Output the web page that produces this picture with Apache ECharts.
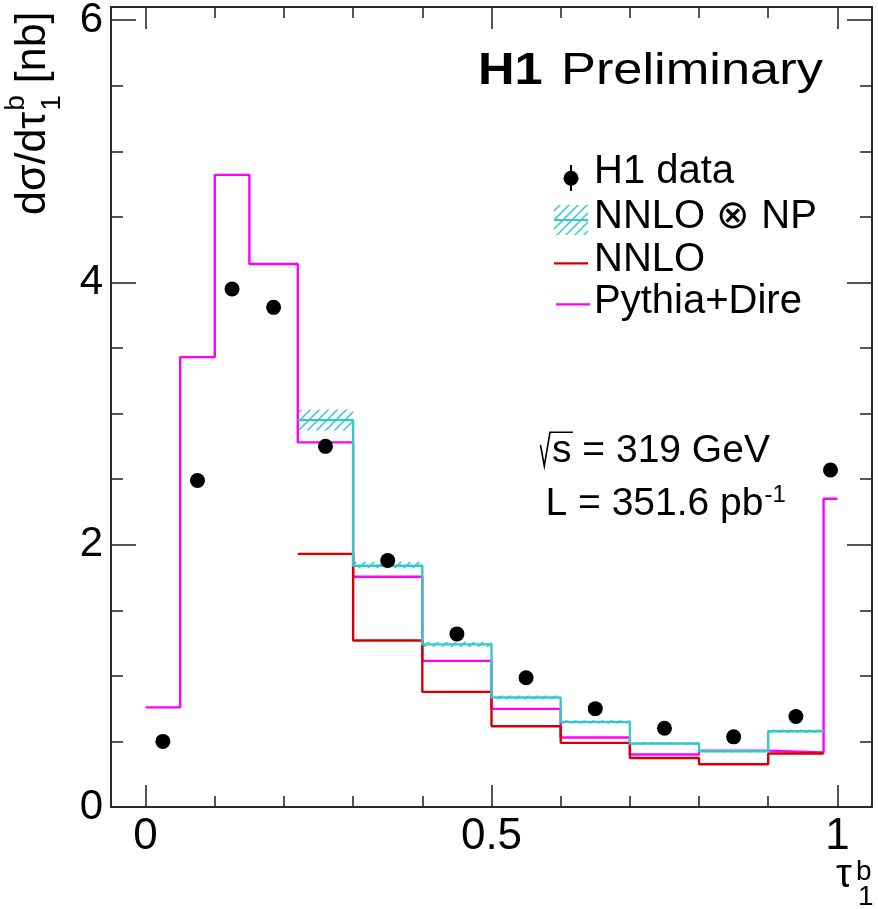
<!DOCTYPE html>
<html>
<head>
<meta charset="utf-8">
<script src="https://cdn.jsdelivr.net/npm/echarts@6/dist/echarts.min.js"></script>
<style>
html,body{margin:0;padding:0;background:#fff;}
#chart{width:878px;height:909px;}
</style>
</head>
<body>
<div id="chart"></div>
<script>
// Bin edges of the tau_1^b distribution
const binEdges = [0, 0.05, 0.1, 0.15, 0.22, 0.3, 0.4, 0.5, 0.6, 0.7, 0.8, 0.9, 0.98, 1.0];
// Measured cross sections [nb] per bin
const h1Data = [0.50, 2.49, 3.95, 3.81, 2.75, 1.88, 1.32, 0.985, 0.75, 0.60, 0.535, 0.69, 2.57];
// Pythia+Dire prediction
const pythiaDire = [0.76, 3.43, 4.82, 4.14, 2.78, 1.756, 1.114, 0.748, 0.53, 0.40, 0.43, 0.415, 2.35];
// NNLO predictions are available for 0.22 < tau < 0.98 only
const nnlo = [null, null, null, null, 1.93, 1.27, 0.878, 0.616, 0.489, 0.374, 0.326, 0.408, null];
const nnloNP = [null, null, null, null, 2.95, 1.84, 1.24, 0.835, 0.649, 0.484, 0.425, 0.578, null];
const nnloNPLow = [null, null, null, null, 2.87, 1.82, 1.22, 0.82, 0.635, 0.472, 0.415, 0.565, null];
const nnloNPHigh = [null, null, null, null, 3.03, 1.87, 1.26, 0.85, 0.662, 0.496, 0.435, 0.59, null];
// Axis ticks
const xMajorTicks = [0, 0.5, 1];
const xMinorTicks = [0.1, 0.2, 0.3, 0.4, 0.6, 0.7, 0.8, 0.9];
const yMajorTicks = [0, 2, 4, 6];
const yMinorTicks = [0.5, 1, 1.5, 2.5, 3, 3.5, 4.5, 5, 5.5];

const FONT = '"Liberation Sans", Arial, Helvetica, sans-serif';
const MAGENTA = '#ff00ff';
const RED = '#d40000';
const CYAN = '#33c9cc';
const FRAME = '#2a2a2a';

// Histogram outline: horizontal segment per bin, joined by verticals at shared edges
function stepPoints(vals) {
  const pts = [];
  vals.forEach((v, i) => {
    if (v == null) return;
    pts.push([binEdges[i], v], [binEdges[i + 1], v]);
  });
  return pts;
}

const dataPoints = h1Data.map((v, i) => [(binEdges[i] + binEdges[i + 1]) / 2, v]);
const bandData = [];
nnloNP.forEach((v, i) => {
  if (v == null) return;
  bandData.push([binEdges[i], binEdges[i + 1], nnloNPLow[i], nnloNPHigh[i]]);
});

// Diagonal hatch pattern for the NNLO x NP uncertainty band
const hatch = document.createElement('canvas');
hatch.width = 9; hatch.height = 9;
(function () {
  const g = hatch.getContext('2d');
  g.strokeStyle = CYAN;
  g.lineWidth = 1.5;
  g.beginPath();
  g.moveTo(0, 9); g.lineTo(9, 0);
  g.moveTo(-1, 1); g.lineTo(1, -1);
  g.moveTo(8, 10); g.lineTo(10, 8);
  g.stroke();
})();
const hatchFill = { image: hatch, repeat: 'repeat' };

const measureCtx = document.createElement('canvas').getContext('2d');
function textWidth(t, font) { measureCtx.font = font; return measureCtx.measureText(t).width; }
function f(size, weight) { return (weight ? weight + ' ' : '') + size + 'px ' + FONT; }

function xAxisDef(position, ticks, len, withLine, withLabels) {
  return {
    type: 'value', position: position, min: -0.05, max: 1.05,
    axisLine: { show: withLine, onZero: false, lineStyle: { color: FRAME, width: 2 } },
    axisTick: { show: true, inside: true, length: len, customValues: ticks, lineStyle: { color: FRAME, width: 1.6 } },
    axisLabel: withLabels ? { show: true, customValues: ticks, fontSize: 44, fontFamily: FONT, color: '#000', margin: 8 } : { show: false },
    splitLine: { show: false }, minorTick: { show: false }
  };
}
function yAxisDef(position, ticks, len, withLine, withLabels) {
  return {
    type: 'value', position: position, min: 0, max: 6.1,
    axisLine: { show: withLine, onZero: false, lineStyle: { color: FRAME, width: 2 } },
    axisTick: { show: true, inside: true, length: len, customValues: ticks, lineStyle: { color: FRAME, width: 1.6 } },
    axisLabel: withLabels ? { show: true, customValues: ticks, fontSize: 42, fontFamily: FONT, color: '#000', margin: 8 } : { show: false },
    splitLine: { show: false }, minorTick: { show: false }
  };
}

// Y axis title: d sigma / d tau_1^b [nb], written bottom to top
const yFs = 43, ySub = 28;
const yW1 = textWidth('dσ/dτ', f(yFs));
const yWs = Math.max(textWidth('b', f(ySub)), textWidth('1', f(ySub)));
const yTitle = {
  type: 'group', x: 48, y: 215, rotation: Math.PI / 2,
  children: [
    { type: 'text', x: 0, y: -0.3465 * yFs, style: { text: 'dσ/dτ', font: f(yFs), fill: '#000', align: 'left', verticalAlign: 'middle' } },
    { type: 'text', x: yW1 + 1, y: -22 - 0.3465 * ySub, style: { text: 'b', font: f(ySub), fill: '#000', align: 'left', verticalAlign: 'middle' } },
    { type: 'text', x: yW1 + 1, y: 14 - 0.3465 * ySub, style: { text: '1', font: f(ySub), fill: '#000', align: 'left', verticalAlign: 'middle' } },
    { type: 'text', x: yW1 + 1 + yWs, y: -0.3465 * yFs, style: { text: ' [nb]', font: f(yFs), fill: '#000', align: 'left', verticalAlign: 'middle' } }
  ]
};

// X axis title: tau_1^b
const xTitle = [
  { type: 'text', x: 836, y: 890 - 0.3465 * 40, style: { text: 'τ', font: f(40), fill: '#000', align: 'left', verticalAlign: 'middle' } },
  { type: 'text', x: 856, y: 881.7 - 0.3465 * 28, style: { text: 'b', font: f(28), fill: '#000', align: 'left', verticalAlign: 'middle' } },
  { type: 'text', x: 858, y: 907 - 0.3465 * 28, style: { text: '1', font: f(28), fill: '#000', align: 'left', verticalAlign: 'middle' } }
];

// Experiment label
const h1Label = [
  { type: 'text', x: 478, y: 86.7 - 0.3465 * 44, scaleX: 1.15, style: { text: 'H1', font: f(44, 'bold'), fill: '#000', align: 'left', verticalAlign: 'middle' } },
  { type: 'text', x: 561, y: 86.7 - 0.3465 * 44, scaleX: 1.19, style: { text: 'Preliminary', font: f(44), fill: '#000', align: 'left', verticalAlign: 'middle' } }
];

// Legend
const legFs = 40, legX = 594;
const legendItems = [
  { type: 'line', shape: { x1: 571, y1: 165, x2: 571, y2: 191 }, style: { stroke: '#000', lineWidth: 2 } },
  { type: 'circle', shape: { cx: 571, cy: 178.3, r: 7.5 }, style: { fill: '#000' } },
  { type: 'rect', shape: { x: 554, y: 205, width: 34, height: 30 }, style: { fill: hatchFill } },
  { type: 'line', shape: { x1: 554, y1: 220, x2: 588, y2: 220 }, style: { stroke: CYAN, lineWidth: 2.2 } },
  { type: 'line', shape: { x1: 554, y1: 263.3, x2: 588, y2: 263.3 }, style: { stroke: RED, lineWidth: 2.2 } },
  { type: 'line', shape: { x1: 556, y1: 304.3, x2: 590, y2: 304.3 }, style: { stroke: MAGENTA, lineWidth: 2.2 } },
  { type: 'text', x: legX, y: 186 - 0.3465 * legFs, style: { text: 'H1 data', font: f(legFs), fill: '#000', verticalAlign: 'middle' } },
  { type: 'text', x: legX, y: 231 - 0.3465 * legFs, style: { text: 'NNLO ⊗ NP', font: f(legFs), fill: '#000', verticalAlign: 'middle' } },
  { type: 'text', x: legX, y: 274 - 0.3465 * legFs, style: { text: 'NNLO', font: f(legFs), fill: '#000', verticalAlign: 'middle' } },
  { type: 'text', x: legX, y: 316 - 0.3465 * legFs, style: { text: 'Pythia+Dire', font: f(legFs), fill: '#000', verticalAlign: 'middle' } }
];

// Beam energy and luminosity
const infoFs = 39;
const lumiMain = 'L = 351.6 pb';
const lumiW = textWidth(lumiMain, f(infoFs));
const infoItems = [
  { type: 'polyline', shape: { points: [[540.5, 445], [544.3, 466], [550, 432.3], [573, 432.3]] }, style: { stroke: '#000', lineWidth: 1.6, fill: null } },
  { type: 'text', x: 552, y: 465 - 0.3465 * infoFs, style: { text: 's = 319 GeV', font: f(infoFs), fill: '#000', verticalAlign: 'middle' } },
  { type: 'text', x: 545.5, y: 517.3 - 0.3465 * infoFs, style: { text: lumiMain, font: f(infoFs), fill: '#000', verticalAlign: 'middle' } },
  { type: 'text', x: 545.5 + lumiW + 1, y: 504 - 0.3465 * 24, style: { text: '-1', font: f(24), fill: '#000', verticalAlign: 'middle' } }
];

const chart = echarts.init(document.getElementById('chart'), null, { renderer: 'canvas' });
chart.setOption({
  animation: false,
  backgroundColor: '#fff',
  grid: { left: 111, right: 6, top: 7, bottom: 102, containLabel: false, outerBoundsMode: 'none' },
  xAxis: [
    xAxisDef('bottom', xMajorTicks, 22, true, true),
    xAxisDef('bottom', xMinorTicks, 11, false, false),
    xAxisDef('top', xMajorTicks, 22, true, false),
    xAxisDef('top', xMinorTicks, 11, false, false)
  ],
  yAxis: [
    yAxisDef('left', yMajorTicks, 25, true, true),
    yAxisDef('left', yMinorTicks, 12, false, false),
    yAxisDef('right', yMajorTicks, 25, true, false),
    yAxisDef('right', yMinorTicks, 12, false, false)
  ],
  series: [
    {
      name: 'NNLO ⊗ NP band', type: 'custom', data: bandData, z: 1,
      renderItem: function (params, api) {
        const p1 = api.coord([api.value(0), api.value(3)]);
        const p2 = api.coord([api.value(1), api.value(2)]);
        return { type: 'rect', shape: { x: p1[0], y: p1[1], width: p2[0] - p1[0], height: p2[1] - p1[1] }, style: { fill: hatchFill } };
      }
    },
    { name: 'Pythia+Dire', type: 'line', data: stepPoints(pythiaDire), symbol: 'none', lineStyle: { color: MAGENTA, width: 2.4 }, z: 2 },
    { name: 'NNLO', type: 'line', data: stepPoints(nnlo), symbol: 'none', lineStyle: { color: RED, width: 2.4 }, z: 3 },
    { name: 'NNLO ⊗ NP', type: 'line', data: stepPoints(nnloNP), symbol: 'none', lineStyle: { color: CYAN, width: 2.4 }, z: 4 },
    { name: 'H1 data', type: 'scatter', data: dataPoints, symbol: 'circle', symbolSize: 15, itemStyle: { color: '#000', opacity: 1 }, z: 5 }
  ],
  graphic: [yTitle].concat(xTitle, h1Label, legendItems, infoItems)
});
</script>
</body>
</html>
